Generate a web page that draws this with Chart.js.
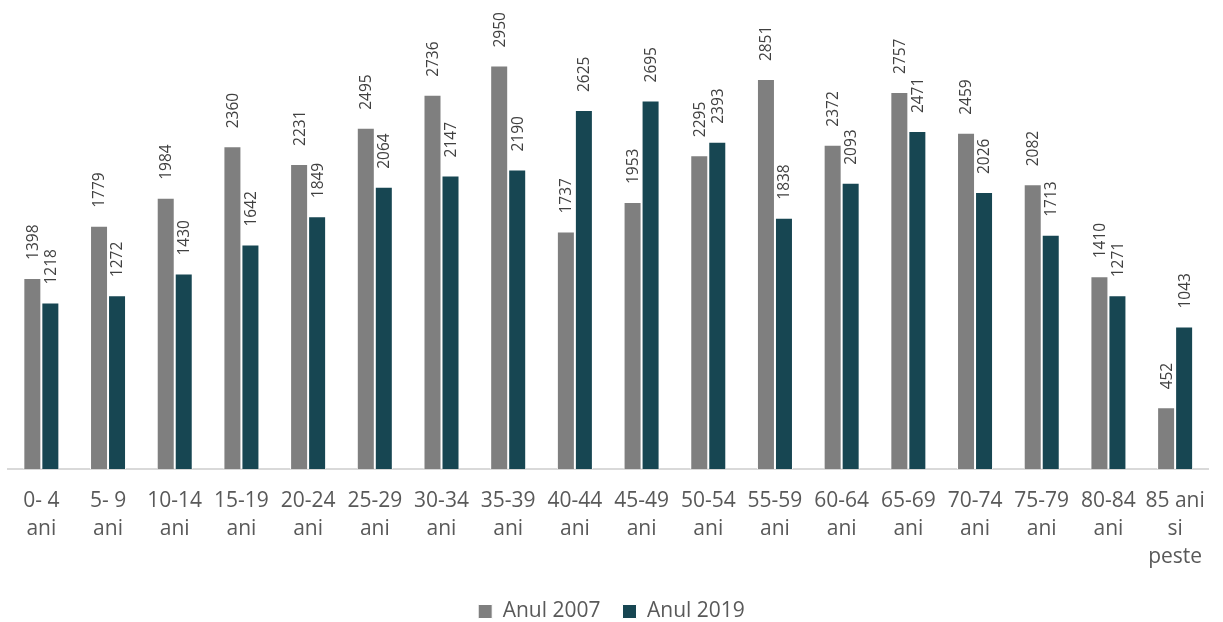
<!DOCTYPE html>
<html>
<head>
<meta charset="utf-8">
<script src="https://cdn.jsdelivr.net/npm/chart.js@4"></script>
<style>
  html, body { margin: 0; padding: 0; background: #fff; }
  canvas { display: block; }
</style>
</head>
<body>
<canvas id="chart" width="1223" height="622"></canvas>
<script>
const categories = [
  ['0- 4', 'ani'], ['5- 9', 'ani'], ['10-14', 'ani'], ['15-19', 'ani'], ['20-24', 'ani'],
  ['25-29', 'ani'], ['30-34', 'ani'], ['35-39', 'ani'], ['40-44', 'ani'], ['45-49', 'ani'],
  ['50-54', 'ani'], ['55-59', 'ani'], ['60-64', 'ani'], ['65-69', 'ani'], ['70-74', 'ani'],
  ['75-79', 'ani'], ['80-84', 'ani'], ['85 ani', 'si', 'peste']
]
const anul2007 = [1398, 1779, 1984, 2360, 2231, 2495, 2736, 2950, 1737, 1953, 2295, 2851, 2372, 2757, 2459, 2082, 1410, 452]
const anul2019 = [1218, 1272, 1430, 1642, 1849, 2064, 2147, 2190, 2625, 2695, 2393, 1838, 2093, 2471, 2026, 1713, 1271, 1043]

// draws the rotated value above each bar
const valueLabels = {
  id: 'valueLabels',
  afterDatasetsDraw(chart) {
    const ctx = chart.ctx
    ctx.save()
    ctx.font = '15.5px "Open Sans", sans-serif'
    ctx.fillStyle = '#404040'
    ctx.textAlign = 'left'
    ctx.textBaseline = 'middle'
    chart.data.datasets.forEach((ds, i) => {
      chart.getDatasetMeta(i).data.forEach((bar, j) => {
        ctx.save()
        ctx.translate(bar.x + 1, bar.y - 18)
        ctx.rotate(-Math.PI / 2)
        ctx.fillText(String(ds.data[j]), 0, 0)
        ctx.restore()
      })
    })
    ctx.restore()
  }
}

new Chart(document.getElementById('chart'), {
  type: 'bar',
  data: {
    labels: categories,
    datasets: [
      { label: 'Anul 2007', data: anul2007, backgroundColor: '#7f7f7f', borderColor: '#ffffff', borderWidth: 1 },
      { label: 'Anul 2019', data: anul2019, backgroundColor: '#174652', borderColor: '#ffffff', borderWidth: 1 }
    ]
  },
  options: {
    responsive: false,
    animation: false,
    devicePixelRatio: 1,
    categoryPercentage: 0.54,
    barPercentage: 1,
    layout: { padding: { left: 8, right: 8, top: 4, bottom: -10 } },
    plugins: {
      legend: {
        position: 'bottom',
        labels: {
          font: { family: '"Open Sans", sans-serif', size: 21 },
          color: '#595959',
          boxWidth: 14,
          boxHeight: 14,
          padding: 22
        }
      },
      tooltip: { enabled: false }
    },
    scales: {
      x: {
        grid: { display: false, drawTicks: false },
        border: { display: true, color: '#d9d9d9', width: 2 },
        ticks: {
          font: { family: '"Open Sans", sans-serif', size: 21, lineHeight: 1.33 },
          color: '#595959',
          maxRotation: 0,
          autoSkip: false,
          padding: 18
        },
        afterFit(scale) { scale.height -= 10 }
      },
      y: {
        display: false,
        min: 0,
        max: 3400
      }
    }
  },
  plugins: [valueLabels]
})
</script>
</body>
</html>
